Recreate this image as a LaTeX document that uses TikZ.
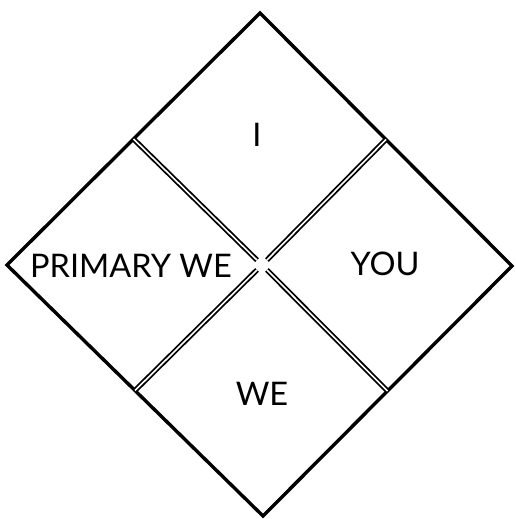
\documentclass[tikz,border=0pt]{standalone}
\usepackage{fontspec}
\setmainfont{Lato}
\usepackage{tikz}
\usetikzlibrary{calc}

\begin{document}
\begin{tikzpicture}[x=1pt,y=-1pt,
  outline/.style={line width=3.4pt,line join=miter},
  divider/.style={double,double distance=1.6pt,line width=1.8pt,shorten >=7pt},
  word/.style={font=\fontsize{32.5}{32.5}\selectfont,inner sep=0pt}]
\useasboundingbox (0,0) rectangle (515,519);
\coordinate (top) at (260,13);
\coordinate (right) at (512,266);
\coordinate (bottom) at (263,516);
\coordinate (left) at (7,265);
\coordinate (c) at (262,265);
\draw[outline] (top) -- (right) -- (bottom) -- (left) -- cycle;
\draw[divider] ($(top)!0.5!(left)$) -- (c);
\draw[divider] ($(top)!0.5!(right)$) -- (c);
\draw[divider] ($(bottom)!0.5!(right)$) -- (c);
\draw[divider] ($(bottom)!0.5!(left)$) -- (c);
\node[word] (i) at (257,135) {I};
\node[word] (you) at (385,264) {YOU};
\node[word] (we) at (262,394) {WE};
\node[word] (primary) at (131,266) {PRIMARY WE};
\end{tikzpicture}
\end{document}
